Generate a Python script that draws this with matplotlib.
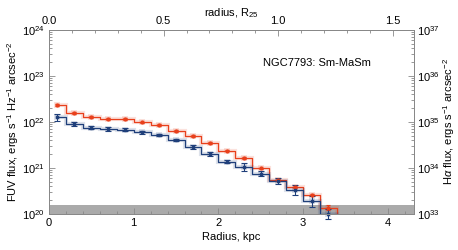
import numpy as np
import matplotlib.pyplot as plt

plt.rcParams['font.family'] = ['Liberation Sans', 'DejaVu Sans']
plt.rcParams['mathtext.fontset'] = 'custom'
plt.rcParams['mathtext.rm'] = 'Liberation Sans'
plt.rcParams['mathtext.it'] = 'Liberation Sans:italic'

# radial bins, kpc
r = np.arange(0.1, 3.35, 0.2)
edges = np.concatenate([[0.1], np.arange(0.2, 3.45, 0.2)])

# log10 of surface brightness
halpha_log = [22.37, 22.20, 22.10, 22.07, 22.07, 21.99, 21.94, 21.81, 21.70,
              21.55, 21.38, 21.22, 20.99, 20.75, 20.58, 20.42, 20.14]
fuv_log = [22.10, 21.96, 21.88, 21.85, 21.83, 21.78, 21.72, 21.61, 21.46,
           21.30, 21.14, 21.02, 20.88, 20.72, 20.52, 20.28, 20.0]
fuv_err = [0.07, 0.04, 0.04, 0.04, 0.03, 0.03, 0.03, 0.03, 0.04,
           0.04, 0.04, 0.08, 0.06, 0.07, 0.10, 0.12, 0.10]
ha_err = [0.02] * 16 + [0.05]

limit = 1.6e20
R25 = 2.707

red = '#e8401c'
blue = '#1f3f7a'


def stepline(ax, vals, color, end_drop):
    xs = np.repeat(edges, 2)[1:-1]
    ys = np.repeat(vals, 2)
    if end_drop:
        xs = np.append(xs, edges[-1])
        ys = np.append(ys, 1e19)
    ax.plot(xs, ys, color=color, lw=3, alpha=0.15, solid_joinstyle='miter')
    ax.plot(xs, ys, color=color, lw=0.9)


fig = plt.figure(figsize=(4.58, 2.5), dpi=100)
ax = fig.add_axes([0.107, 0.144, 0.797, 0.736])

ha = 10 ** np.array(halpha_log)
fuv = 10 ** np.array(fuv_log)

ax.axhspan(1e20, limit, color='#aaaaaa', zorder=0, lw=0)

stepline(ax, ha, red, True)
stepline(ax, fuv, blue, False)

ax.plot(r, ha, 's', ms=4, color=red, alpha=0.15, mew=0, clip_on=False)
ax.errorbar(r, ha, yerr=[ha - 10 ** (np.array(halpha_log) - ha_err),
                         10 ** (np.array(halpha_log) + ha_err) - ha],
            fmt='o', ms=2, color=red, ecolor=red, elinewidth=0.8,
            capsize=1.5, capthick=0.8, clip_on=False)
ax.plot(r, fuv, 's', ms=4.5, color=blue, alpha=0.15, mew=0, clip_on=False)
ax.errorbar(r, fuv, yerr=[fuv - 10 ** (np.array(fuv_log) - fuv_err),
                          10 ** (np.array(fuv_log) + fuv_err) - fuv],
            fmt='s', ms=2, color=blue, ecolor=blue, elinewidth=0.8,
            capsize=2, capthick=0.8, clip_on=False)

ax.set_yscale('log')
ax.set_ylim(1e20, 1e24)
ax.set_xlim(0, 4.31)
ax.set_xticks([0, 1, 2, 3, 4])
ax.set_xticks(np.arange(0, 4.31, 0.2), minor=True)
ax.set_xlabel('Radius, kpc', fontsize=8, labelpad=3)
ax.set_ylabel('FUV flux, ergs s$^{-1}$ Hz$^{-1}$ arcsec$^{-2}$', fontsize=8, labelpad=1)

ax2 = ax.twinx()
ax2.set_yscale('log')
ax2.set_ylim(1e33, 1e37)
ax2.set_ylabel(r'H$\alpha$ flux, ergs s$^{-1}$ arcsec$^{-2}$', fontsize=8, labelpad=1)

ax3 = ax.twiny()
ax3.set_xlim(0, 4.31 / R25)
ax3.set_xticks([0.0, 0.5, 1.0, 1.5])
ax3.set_xticklabels(['0.0', '0.5', '1.0', '1.5'])
ax3.set_xticks(np.arange(0, 1.6, 0.1), minor=True)
ax3.set_xlabel('radius, R$_{25}$', fontsize=8, labelpad=0)

for a in (ax, ax2, ax3):
    a.tick_params(which='both', direction='in', colors='#888888',
                  labelcolor='black', labelsize=8, pad=3)
    a.tick_params(which='major', length=4, width=0.6)
    a.tick_params(which='minor', length=2, width=0.6)
    for s in a.spines.values():
        s.set_color('#888888')
        s.set_linewidth(0.6)
ax.tick_params(axis='y', which='both', right=False)
ax.tick_params(axis='x', which='both', top=False)
ax2.tick_params(axis='y', pad=2)

ax.text(0.734, 0.82, 'NGC7793: Sm-MaSm', transform=ax.transAxes,
        fontsize=8, ha='center', va='center')

fig.savefig('out.png', dpi=100)
